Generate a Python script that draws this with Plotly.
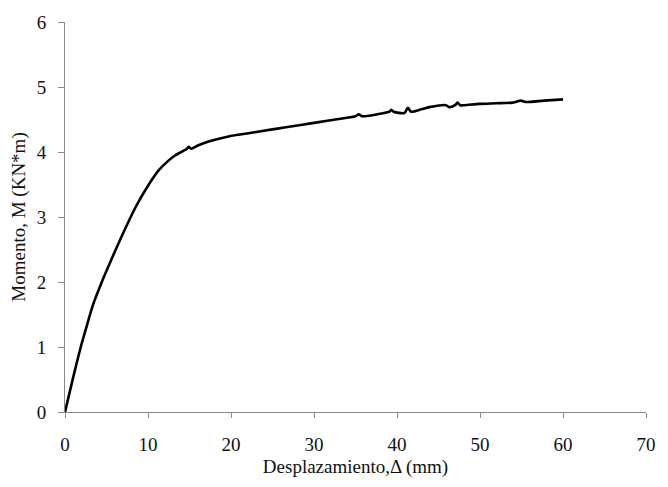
import plotly.graph_objects as go

# Displacement (mm)
desplazamiento = [0, 1.0, 1.9, 2.5, 3.4, 4.4, 5.5, 7.0, 8.5, 10.0, 11.3,
                  12.4, 13.3, 14.3, 14.7, 14.9, 15.2, 16.0, 17.3, 19.7, 21.7, 23.6, 25.6, 27.6,
                  29.6, 31.6, 33.6, 35.0, 35.4, 35.8, 37.6, 39.1, 39.3, 39.6, 40.9, 41.3, 41.7,
                  43.0, 43.9, 45.9, 46.3, 47.0, 47.3, 47.6, 48.1, 49.9, 52.0, 53.9, 54.9, 55.5,
                  57.7, 60.0]
# Moment (KN*m)
momento = [0, 0.54, 1.0, 1.27, 1.66, 1.99, 2.32, 2.75, 3.15, 3.48, 3.72,
           3.86, 3.95, 4.02, 4.05, 4.08, 4.05, 4.10, 4.16, 4.24, 4.28, 4.32, 4.36, 4.40,
           4.44, 4.48, 4.52, 4.55, 4.58, 4.55, 4.58, 4.62, 4.65, 4.62, 4.60, 4.68, 4.62,
           4.66, 4.69, 4.72, 4.69, 4.72, 4.76, 4.72, 4.72, 4.74, 4.75, 4.76, 4.79, 4.77,
           4.79, 4.81]

x_ticks = [0, 10, 20, 30, 40, 50, 60, 70]
y_ticks = [0, 1, 2, 3, 4, 5, 6]

FONT = "Liberation Serif, Times New Roman, serif"
AXIS_COLOR = "#8a8a8a"

fig = go.Figure()
fig.add_trace(go.Scatter(
    x=desplazamiento, y=momento, mode="lines",
    line=dict(color="#000000", width=2.6, shape="spline", smoothing=0.7),
    showlegend=False, hoverinfo="skip",
))

fig.update_layout(
    width=668, height=487,
    margin=dict(l=65, r=16, t=19, b=75),
    paper_bgcolor="white", plot_bgcolor="white",
    font=dict(family=FONT, size=19, color="#111111"),
    xaxis=dict(
        range=[0, 70], tickvals=x_ticks, ticktext=[str(v) for v in x_ticks],
        showline=True, linecolor=AXIS_COLOR, linewidth=1,
        ticks="outside", ticklen=5, tickcolor=AXIS_COLOR, tickwidth=1,
        showgrid=False, zeroline=False, ticklabelstandoff=10,
        tickfont=dict(family=FONT, size=19, color="#111111"),
        title=dict(text="Desplazamiento,\u0394 (mm)", standoff=5,
                   font=dict(family=FONT, size=19, color="#111111")),
    ),
    yaxis=dict(
        range=[0, 6], tickvals=y_ticks, ticktext=[str(v) for v in y_ticks],
        showline=True, linecolor=AXIS_COLOR, linewidth=1,
        ticks="outside", ticklen=6, tickcolor=AXIS_COLOR, tickwidth=1,
        showgrid=False, zeroline=False, ticklabelstandoff=8,
        tickfont=dict(family=FONT, size=19, color="#111111"),
        title=dict(text="Momento, M (KN*m)", standoff=6,
                   font=dict(family=FONT, size=19, color="#111111")),
    ),
)

fig.write_html("out.html")
